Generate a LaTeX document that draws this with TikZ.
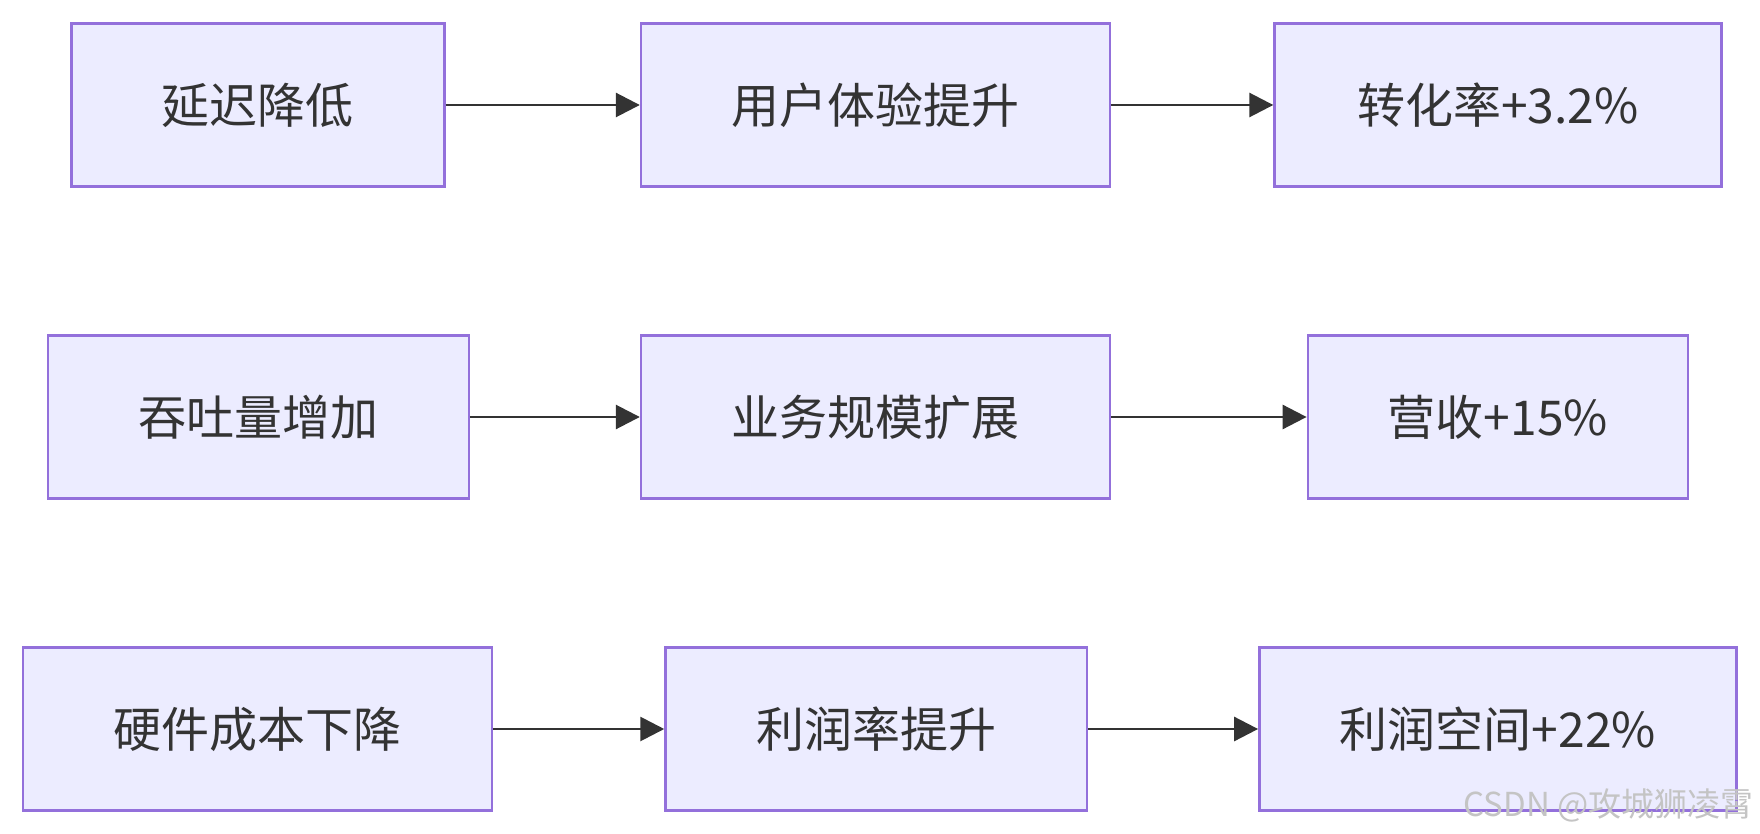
\documentclass[tikz,border=0pt]{standalone}
\usepackage{fontspec}
\setmainfont{Noto Sans CJK SC}
\usetikzlibrary{arrows.meta}
\definecolor{boxfill}{HTML}{ECECFF}
\definecolor{boxline}{HTML}{9370DB}
\definecolor{txt}{HTML}{333333}
\definecolor{wm}{HTML}{C4C4C4}
\tikzset{
  box/.style={draw=boxline, fill=boxfill, line width=1.2pt, minimum height=81.5pt, inner sep=0pt, text=txt, font=\fontsize{24pt}{28pt}\selectfont},
  link/.style={draw=txt, line width=1.4pt, -{Triangle[length=12pt,width=12pt]}}
}
\begin{document}
\begin{tikzpicture}
\useasboundingbox (0pt,0pt) rectangle (880pt,-417pt);
\node[box, minimum width=186.5pt] (a) at (128.9pt,-52.5pt) {延迟降低};
\node[box, minimum width=234.5pt] (b) at (437.75pt,-52.5pt) {用户体验提升};
\node[box, minimum width=223.5pt] (c) at (749pt,-52.5pt) {转化率+3.2\%};
\node[box, minimum width=210.5pt] (d) at (129.1pt,-208.5pt) {吞吐量增加};
\node[box, minimum width=234.5pt] (e) at (437.75pt,-208.5pt) {业务规模扩展};
\node[box, minimum width=190pt] (f) at (748.9pt,-208.5pt) {营收+15\%};
\node[box, minimum width=234.5pt] (g) at (128.8pt,-364.5pt) {硬件成本下降};
\node[box, minimum width=210.75pt] (h) at (438.1pt,-364.5pt) {利润率提升};
\node[box, minimum width=238.5pt] (i) at (748.9pt,-364.5pt) {利润空间+22\%};
\draw[link] (a) -- (b);
\draw[link] (b) -- (c);
\draw[link] (d) -- (e);
\draw[link] (e) -- (f);
\draw[link] (g) -- (h);
\draw[link] (h) -- (i);
\node[text=wm, font=\fontsize{16.5pt}{18pt}\selectfont, inner sep=0pt, anchor=east] (wmk) at (877pt,-402.5pt) {CSDN @攻城狮凌霄};
\end{tikzpicture}
\end{document}
